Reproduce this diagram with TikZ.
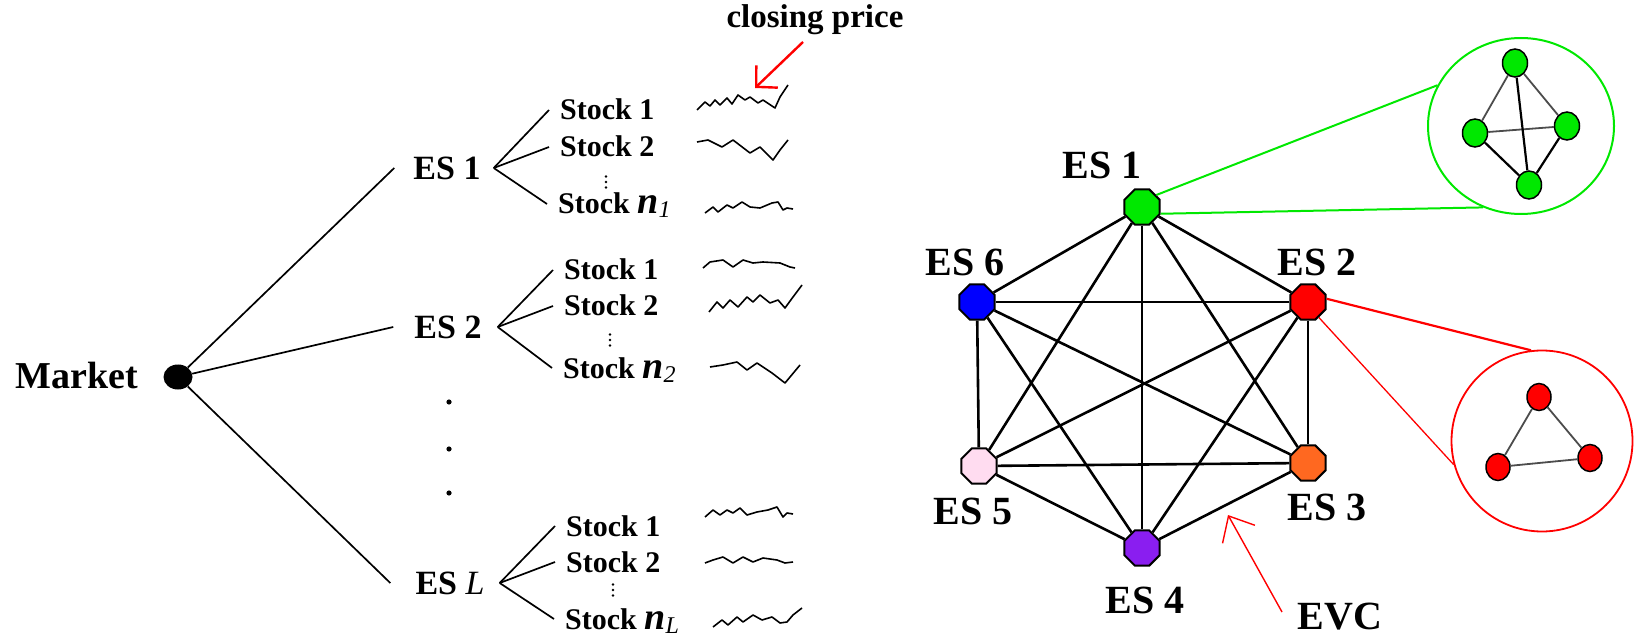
\documentclass[tikz,border=0pt]{standalone}
\usepackage{fontspec}
\setmainfont{Liberation Serif}
\usetikzlibrary{shapes.geometric,arrows.meta}
\definecolor{esgreen}{RGB}{0,232,0}
\definecolor{esred}{RGB}{255,0,0}
\definecolor{esorange}{RGB}{255,104,32}
\definecolor{espurple}{RGB}{138,30,240}
\definecolor{espink}{RGB}{255,220,240}
\definecolor{esblue}{RGB}{0,0,255}
\newcommand\stockidx[1]{{\fontsize{38}{38}\selectfont\bfseries\itshape n}{\fontsize{24}{24}\selectfont\mdseries\itshape\raisebox{-4pt}{#1}}}
\newcommand\vdotsat[1]{\fill (#1) ++(0,-5.5) circle (1.4pt) ++(0,5.5) circle (1.4pt) ++(0,5.5) circle (1.4pt);}
\begin{document}
\begin{tikzpicture}[x=1pt,y=-1pt,
  lbl/.style={font=\fontsize{30}{30}\selectfont\bfseries, inner ysep=0pt, inner xsep=11pt, text height=20pt, text depth=0pt, anchor=west},
  esl/.style={font=\fontsize{34}{34}\selectfont\bfseries, inner sep=0pt, text height=23pt, text depth=0pt},
  tree/.style={line width=1.7pt},
  spark/.style={line width=1.6pt, line join=round},
  es/.style={regular polygon, regular polygon sides=8, minimum size=38pt, draw=black, line width=2pt, inner sep=0pt},
  big/.style={font=\fontsize{40}{40}\selectfont\bfseries, inner sep=0pt},
  k6/.style={line width=2.6pt},
  sub/.style={ellipse, minimum width=25pt, minimum height=28pt, draw=black, line width=1.5pt, inner sep=0pt},
  subedge/.style={line width=1.8pt, black!70},
  subedgek/.style={line width=2.2pt, black},
]
\useasboundingbox (0,0) rectangle (1639,636);

% ---------- left tree ----------
\node[font=\fontsize{38}{38}\selectfont\bfseries, inner sep=0pt] (mkt) at (77,376) {Market};
\node[ellipse, fill=black, minimum width=29pt, minimum height=25pt, inner sep=0pt] (mk) at (178,377) {};

\node[esl] (e1) at (447,168) {ES 1};
\node[esl] (e2) at (448,327) {ES 2};
\node[esl] (eL) at (450,583) {ES {\mdseries\itshape L}};

\draw[tree] (mk) -- ([xshift=-19pt]e1.west);
\draw[tree] (mk) -- ([xshift=-21pt]e2.west);
\draw[tree] (mk) -- ([xshift=-25pt]eL.west);

\fill (449,402) circle (2.6pt);
\fill (449,449) circle (2.6pt);
\fill (449,493) circle (2.6pt);

\coordinate (b1) at ([xshift=13pt]e1.east);
\coordinate (b2) at ([xshift=16pt]e2.east);
\coordinate (bL) at ([xshift=15pt]eL.east);

% ES 1 stocks
\node[lbl] (s11) at (549,110) {Stock 1};
\node[lbl] (s12) at (549,147) {Stock 2};
\coordinate (d1) at (606,182);
\vdotsat{d1}
\node[lbl] (s1n) at (547,204) {Stock \stockidx{1}};
\draw[tree] (b1) -- (s11.west);
\draw[tree] (b1) -- (s12.west);
\draw[tree] (b1) -- (s1n.west);

% ES 2 stocks
\node[lbl] (s21) at (553,270) {Stock 1};
\node[lbl] (s22) at (553,306) {Stock 2};
\coordinate (d2) at (610,340);
\vdotsat{d2}
\node[lbl] (s2n) at (552,368) {Stock \stockidx{2}};
\draw[tree] (b2) -- (s21.west);
\draw[tree] (b2) -- (s22.west);
\draw[tree] (b2) -- (s2n.west);

% ES L stocks
\node[lbl] (sL1) at (555,526) {Stock 1};
\node[lbl] (sL2) at (555,562) {Stock 2};
\coordinate (dL) at (613,590);
\vdotsat{dL}
\node[lbl] (sLn) at (554,619) {Stock \stockidx{L}};
\draw[tree] (bL) -- (sL1.west);
\draw[tree] (bL) -- (sL2.west);
\draw[tree] (bL) -- (sLn.west);

% sparklines
\draw[spark] (697,110) -- (705,102) -- (710,106) -- (715,100) -- (720,105) -- (727,98) -- (732,104) -- (738,95) -- (745,100) -- (750,97) -- (758,103) -- (763,100) -- (775,108) -- (780,97) -- (788,85);
\draw[spark] (697,142) -- (708,140) -- (722,147) -- (733,140) -- (750,153) -- (760,147) -- (773,160) -- (780,150) -- (788,140);
\draw[spark] (705,213) -- (713,207) -- (718,212) -- (727,205) -- (733,208) -- (742,202) -- (750,207) -- (760,208) -- (772,203) -- (778,202) -- (783,210) -- (787,208) -- (793,209);

\draw[spark] (703,268) -- (710,262) -- (723,260) -- (733,267) -- (743,260) -- (753,263) -- (763,262) -- (780,263) -- (790,267) -- (795,268);
\draw[spark] (709,312) -- (717,302) -- (723,308) -- (730,300) -- (738,307) -- (747,297) -- (753,302) -- (760,295) -- (770,303) -- (778,300) -- (785,308) -- (793,297) -- (802,285);
\draw[spark] (710,367) -- (723,365) -- (737,362) -- (747,370) -- (757,363) -- (772,373) -- (785,383) -- (790,377) -- (800,365);

\draw[spark] (705,517) -- (713,510) -- (720,515) -- (727,510) -- (733,513) -- (740,508) -- (747,515) -- (757,512) -- (768,510) -- (777,507) -- (783,517) -- (787,513) -- (793,514);
\draw[spark] (705,563) -- (713,560) -- (723,557) -- (733,563) -- (743,557) -- (753,562) -- (763,558) -- (777,560) -- (785,563) -- (793,562);
\draw[spark] (713,627) -- (722,620) -- (728,625) -- (737,617) -- (743,622) -- (753,615) -- (762,620) -- (772,617) -- (780,623) -- (787,622) -- (793,615) -- (802,608);

% closing price
\node[font=\fontsize{33}{33}\selectfont\bfseries, inner sep=0pt] (cp) at (815,20) {closing price};
\coordinate (cps) at (803,42);
\coordinate (cpt) at (755,88);
\draw[esred, line width=2.4pt, -{Straight Barb[length=15pt,width=31pt]}] (cps) -- (cpt);

% ---------- right graph ----------
\node[es, fill=esgreen] (n1) at (1142,207) {};
\node[es, fill=esred] (n2) at (1308,302) {};
\node[es, fill=esorange] (n3) at (1308,463) {};
\node[es, fill=espurple] (n4) at (1142,548) {};
\node[es, fill=espink] (n5) at (979,466) {};
\node[es, fill=esblue] (n6) at (977,302) {};

\foreach \a/\b in {n1/n2,n1/n3,n1/n4,n1/n5,n1/n6,n2/n3,n2/n4,n2/n5,n2/n6,n3/n4,n3/n5,n3/n6,n4/n5,n4/n6,n5/n6}
  \draw[k6] (\a) -- (\b);

\node[big] (l1) at (1102,165) {ES 1};
\node[big] (l2) at (1317,262) {ES 2};
\node[big] (l3) at (1327,507) {ES 3};
\node[big] (l4) at (1145,600) {ES 4};
\node[big] (l5) at (973,511) {ES 5};
\node[big] (l6) at (965,262) {ES 6};

% EVC
\node[big] (evc) at (1340,617) {EVC};
\coordinate (evcs) at (1282,612);
\coordinate (evct) at (1228,515);
\draw[esred, line width=1.4pt, -{Straight Barb[length=21pt,width=37pt]}] (evcs) -- (evct);

% green zoom circle
\node[ellipse, draw=esgreen, line width=2pt, minimum width=186pt, minimum height=176pt, inner sep=0pt] (gc) at (1521,126) {};
\draw[esgreen, line width=2pt] (n1.40) -- (gc.154);
\draw[esgreen, line width=2pt] (n1.-20) -- (gc.245);
\node[sub, fill=esgreen] (g1) at (1515,63) {};
\node[sub, fill=esgreen] (g2) at (1475,133) {};
\node[sub, fill=esgreen] (g3) at (1567,126) {};
\node[sub, fill=esgreen] (g4) at (1529,185) {};
\draw[subedge] (g1) -- (g2);
\draw[subedge] (g1) -- (g3);
\draw[subedge] (g2) -- (g3);
\draw[subedgek] (g1) -- (g4);
\draw[subedgek] (g2) -- (g4);
\draw[subedgek] (g3) -- (g4);

% red zoom circle
\node[circle, draw=esred, line width=1.8pt, minimum size=181pt, inner sep=0pt] (rc) at (1542,441) {};
\draw[esred, line width=2.2pt] (n2.10) -- (rc.97);
\draw[esred, line width=1.3pt] (n2.-55) -- (rc.195);
\node[sub, fill=esred, minimum width=24pt, minimum height=27pt] (r1) at (1539,397) {};
\node[sub, fill=esred, minimum width=24pt, minimum height=27pt] (r2) at (1498,467) {};
\node[sub, fill=esred, minimum width=24pt, minimum height=27pt] (r3) at (1590,458) {};
\draw[subedge] (r1) -- (r2);
\draw[subedge] (r1) -- (r3);
\draw[subedge] (r2) -- (r3);
\end{tikzpicture}
\end{document}
